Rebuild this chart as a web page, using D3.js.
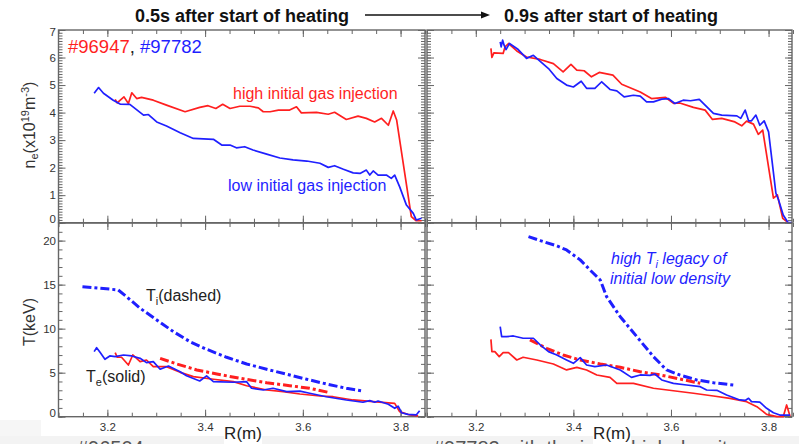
<!DOCTYPE html>
<meta charset="utf-8">
<style>
  body { margin: 0; background: #fff; }
  text { font-family: "Liberation Sans", Arial, sans-serif; }
</style>
<script src="https://d3js.org/d3.v7.min.js"></script>
<svg id="profiles" width="799" height="444"></svg>
<script>
  // ---- data: [R (m), value] ----
  // density, 0.5s
  var neEarlyRed = [[3.216,4.48],[3.220,4.35],[3.234,4.57],[3.243,4.33],[3.250,4.72],[3.260,4.51],[3.270,4.55],[3.294,4.45],[3.321,4.27],[3.359,4.03],[3.389,4.19],[3.406,4.25],[3.422,4.15],[3.436,4.30],[3.451,4.15],[3.471,4.23],[3.492,4.23],[3.509,4.17],[3.519,4.03],[3.533,4.03],[3.550,4.09],[3.573,4.09],[3.587,4.21],[3.597,3.99],[3.628,4.01],[3.652,3.94],[3.665,4.01],[3.689,3.75],[3.713,3.87],[3.730,3.79],[3.747,3.66],[3.761,3.79],[3.775,3.54],[3.785,4.06],[3.792,3.73],[3.822,0.22],[3.832,0.07],[3.843,0.07]];
  var neEarlyBlue = [[3.173,4.70],[3.182,4.91],[3.192,4.70],[3.212,4.45],[3.226,4.31],[3.246,4.30],[3.274,3.91],[3.284,3.93],[3.301,3.66],[3.321,3.51],[3.349,3.27],[3.376,3.06],[3.417,3.03],[3.434,2.82],[3.451,2.82],[3.464,2.72],[3.481,2.76],[3.498,2.64],[3.526,2.49],[3.553,2.35],[3.580,2.28],[3.608,2.24],[3.635,2.16],[3.652,2.01],[3.665,2.07],[3.683,1.94],[3.703,1.81],[3.717,1.79],[3.730,1.91],[3.737,1.73],[3.744,1.88],[3.754,1.73],[3.771,1.73],[3.781,1.61],[3.788,1.73],[3.798,1.31],[3.812,0.64],[3.826,0.34],[3.832,0.10],[3.843,0.16]];
  // density, 0.9s
  var neLateRed = [[3.231,6.33],[3.233,6.00],[3.237,6.17],[3.256,6.15],[3.260,6.39],[3.267,6.51],[3.284,6.24],[3.304,6.02],[3.332,5.93],[3.359,5.78],[3.379,5.48],[3.395,5.75],[3.407,5.54],[3.422,5.52],[3.437,5.30],[3.453,5.46],[3.481,5.36],[3.499,5.03],[3.537,4.75],[3.560,4.51],[3.589,4.55],[3.606,4.33],[3.618,4.35],[3.646,4.19],[3.670,4.09],[3.685,3.75],[3.704,3.79],[3.731,3.66],[3.745,3.52],[3.755,3.69],[3.769,3.58],[3.779,3.21],[3.788,3.36],[3.810,0.89],[3.818,1.01],[3.829,0.16],[3.840,0.00]];
  var neLateBlue = [[3.250,6.57],[3.252,6.39],[3.255,6.63],[3.258,6.45],[3.262,6.29],[3.269,6.51],[3.287,6.29],[3.304,5.97],[3.318,6.08],[3.349,5.60],[3.366,5.24],[3.386,5.00],[3.400,4.93],[3.416,5.14],[3.427,4.88],[3.444,4.88],[3.458,5.12],[3.475,4.84],[3.489,4.79],[3.504,4.57],[3.523,4.63],[3.537,4.60],[3.550,4.39],[3.564,4.39],[3.581,4.49],[3.595,4.51],[3.608,4.33],[3.625,4.45],[3.640,4.43],[3.658,4.48],[3.687,3.97],[3.704,3.91],[3.735,3.88],[3.743,3.79],[3.752,4.09],[3.759,3.70],[3.765,3.70],[3.774,3.91],[3.782,3.54],[3.791,3.70],[3.800,3.30],[3.815,1.07],[3.820,0.85],[3.830,0.28],[3.840,0.00],[3.847,0.00]];
  // temperatures, 0.5s
  var teEarlyRed = [[3.216,7.28],[3.220,6.75],[3.229,6.75],[3.243,5.87],[3.252,7.01],[3.267,6.25],[3.280,6.44],[3.294,5.68],[3.321,5.68],[3.349,5.04],[3.376,4.55],[3.417,4.25],[3.458,3.98],[3.485,3.52],[3.526,3.03],[3.560,2.84],[3.594,2.58],[3.635,2.35],[3.662,2.27],[3.703,1.90],[3.744,1.71],[3.788,1.52],[3.798,0.57],[3.819,0.19],[3.836,0.10]];
  var teEarlyBlue = [[3.173,7.39],[3.178,7.84],[3.185,7.31],[3.195,6.52],[3.205,6.90],[3.216,6.82],[3.233,7.01],[3.250,6.90],[3.267,6.63],[3.280,6.14],[3.294,6.25],[3.308,5.39],[3.325,5.76],[3.349,5.11],[3.362,4.66],[3.389,4.06],[3.403,4.63],[3.417,3.98],[3.458,3.91],[3.485,3.98],[3.495,3.23],[3.519,3.03],[3.539,3.23],[3.567,2.84],[3.594,2.90],[3.614,2.66],[3.648,2.27],[3.689,1.90],[3.723,1.64],[3.737,1.82],[3.747,1.64],[3.754,1.78],[3.775,1.41],[3.788,0.95],[3.795,1.20],[3.802,0.45],[3.815,0.27],[3.832,0.20],[3.839,0.68]];
  var tiEarlyRed = [[3.308,6.63],[3.342,5.99],[3.383,5.31],[3.424,4.85],[3.471,4.36],[3.526,3.86],[3.573,3.52],[3.614,3.23],[3.655,2.73]];
  var tiEarlyBlue = [[3.149,14.77],[3.185,14.59],[3.222,14.40],[3.239,13.64],[3.267,12.32],[3.301,10.99],[3.335,9.66],[3.369,8.52],[3.403,7.66],[3.444,6.75],[3.485,5.99],[3.526,5.39],[3.567,4.82],[3.608,4.25],[3.648,3.72],[3.689,3.23],[3.723,2.92]];
  // temperatures, 0.9s
  var teLateRed = [[3.231,8.79],[3.233,7.39],[3.239,7.39],[3.248,6.82],[3.256,7.28],[3.267,7.28],[3.284,6.44],[3.297,6.75],[3.325,6.44],[3.359,5.99],[3.386,5.31],[3.407,5.61],[3.427,5.31],[3.448,4.74],[3.475,4.47],[3.489,3.79],[3.523,3.79],[3.564,3.23],[3.605,2.95],[3.646,2.66],[3.687,2.35],[3.721,2.09],[3.755,1.71],[3.776,1.14],[3.796,0.27],[3.817,0.00],[3.830,0.00],[3.837,1.33],[3.844,0.06]];
  var teLateBlue = [[3.250,10.23],[3.253,9.09],[3.263,9.09],[3.277,9.17],[3.297,8.91],[3.318,8.91],[3.332,8.15],[3.349,7.39],[3.366,7.01],[3.386,6.44],[3.400,6.06],[3.414,6.71],[3.427,5.87],[3.444,5.68],[3.468,5.87],[3.496,5.31],[3.519,4.47],[3.537,4.74],[3.557,4.70],[3.567,4.85],[3.581,4.17],[3.605,3.79],[3.632,3.60],[3.660,3.41],[3.673,3.03],[3.694,3.00],[3.714,2.47],[3.741,1.90],[3.752,1.85],[3.759,2.09],[3.765,1.71],[3.782,1.66],[3.796,0.95],[3.810,0.45],[3.823,0.19],[3.844,0.19]];
  var tiLateRed = [[3.311,8.72],[3.345,7.77],[3.379,7.01],[3.414,6.44],[3.455,5.99],[3.496,5.61],[3.537,5.11],[3.578,4.74],[3.618,4.28],[3.660,3.79]];
  var tiLateBlue = [[3.308,20.45],[3.332,20.00],[3.366,19.40],[3.386,18.94],[3.414,17.81],[3.434,16.67],[3.455,15.53],[3.468,13.64],[3.496,11.36],[3.530,9.09],[3.564,6.82],[3.591,5.31],[3.618,4.74],[3.653,4.17],[3.687,3.86],[3.728,3.60]];

  var xTickLabels = [3.2, 3.4, 3.6, 3.8];
  var neTickLabels = [0, 1, 2, 3, 4, 5, 6, 7];
  var tTickLabels = [0, 5, 10, 15, 20];

  var red = "#ff1f1f", blue = "#1f1fff";

  var svg = d3.select("svg");

  // light slide background showing at the very bottom
  svg.append("rect").attr("x", 0).attr("y", 436).attr("width", 799).attr("height", 8).attr("fill", "#f3f3f3");
  svg.append("rect").attr("x", 0).attr("y", 420).attr("width", 41).attr("height", 16).attr("fill", "#f6f6f6");

  // captions of the slide, cut off by the bottom edge (drawn first, under R(m))
  svg.append("text").attr("x", 77).attr("y", 455).attr("font-size", 20).attr("fill", "#555").text("#96504");
  svg.append("text").attr("x", 433).attr("y", 455).attr("font-size", 20).attr("fill", "#555")
    .text("#97782 with the initial high density");

  // scales
  var xL = d3.scaleLinear().domain([3.1, 3.85]).range([58.5, 425]);
  var xR = d3.scaleLinear().domain([3.1, 3.848]).range([427, 792]);
  var yNe = d3.scaleLinear().domain([0, 7]).range([222.7, 30]);
  var yT = d3.scaleLinear().domain([0, 22]).range([416.7, 223]);

  var xMinor = d3.range(3.1, 3.851, 0.05).map(function(v) { return +v.toFixed(2); });
  var neMinor = d3.range(0, 7.001, 0.1).map(function(v) { return +v.toFixed(1); });
  var tMinor = d3.range(0, 22.001, 1);

  function ticks(g, axisFn, scale, values, size, labels) {
    var a = axisFn(scale).tickValues(values).tickSizeInner(-size).tickSizeOuter(0);
    a.tickFormat(labels ? d3.format("") : "");
    g.call(a);
    g.select(".domain").remove();
    g.selectAll("line").attr("stroke", "#666").attr("stroke-width", 1);
    g.selectAll("text").attr("font-size", 11.5).attr("fill", "#333");
    return g;
  }

  function panel(x, y, xMaj, yMaj, yMin, labelX, labelY) {
    var g = svg.append("g");
    var x0 = x.range()[0], x1 = x.range()[1], y0 = y.range()[0], y1 = y.range()[1];
    // x ticks
    ticks(g.append("g").attr("transform", "translate(0," + y0 + ")"), d3.axisBottom, x, xMinor, 4, false);
    var bx = ticks(g.append("g").attr("transform", "translate(0," + y0 + ")"), d3.axisBottom, x, xMaj, 7, labelX);
    bx.selectAll("text").attr("y", 6);
    ticks(g.append("g").attr("transform", "translate(0," + y1 + ")"), d3.axisTop, x, xMinor, 4, false);
    ticks(g.append("g").attr("transform", "translate(0," + y1 + ")"), d3.axisTop, x, xMaj, 7, false);
    // y ticks
    ticks(g.append("g").attr("transform", "translate(" + x0 + ",0)"), d3.axisLeft, y, yMin, 4, false);
    var ly = ticks(g.append("g").attr("transform", "translate(" + x0 + ",0)"), d3.axisLeft, y, yMaj, 7, labelY);
    ly.selectAll("text").attr("x", -2.5);
    ticks(g.append("g").attr("transform", "translate(" + x1 + ",0)"), d3.axisRight, y, yMin, 4, false);
    ticks(g.append("g").attr("transform", "translate(" + x1 + ",0)"), d3.axisRight, y, yMaj, 7, false);
    g.append("rect").attr("x", x0).attr("y", y1).attr("width", x1 - x0).attr("height", y0 - y1)
      .attr("fill", "none").attr("stroke", "#666").attr("stroke-width", 1.4);
    return { g: g, x: x, y: y, ly: ly };
  }

  var pTL = panel(xL, yNe, xTickLabels, neTickLabels, neMinor, false, true);
  var pTR = panel(xR, yNe, xTickLabels, neTickLabels, neMinor, false, false);
  var pBL = panel(xL, yT, xTickLabels, tTickLabels, tMinor, true, true);
  var pBR = panel(xR, yT, xTickLabels, tTickLabels, tMinor, true, false);

  // nudge end labels off the frame like the original
  pTL.ly.selectAll(".tick").filter(function(d) { return d === 0; }).select("text").attr("dy", "0.02em");
  pTL.ly.selectAll(".tick").filter(function(d) { return d === 7; }).select("text").attr("dy", "0.5em");
  pBL.ly.selectAll(".tick").filter(function(d) { return d === 0; }).select("text").attr("dy", "0em");

  function curve(p, data, color, dashed) {
    var line = d3.line().x(function(d) { return p.x(d[0]); }).y(function(d) { return p.y(d[1]); });
    p.g.append("path").datum(data).attr("d", line)
      .attr("fill", "none").attr("stroke", color)
      .attr("stroke-width", dashed ? 3 : 1.7)
      .attr("stroke-linejoin", "round")
      .attr("stroke-dasharray", dashed ? "9,3,3,3" : null);
  }

  curve(pTL, neEarlyRed, red);
  curve(pTL, neEarlyBlue, blue);
  curve(pTR, neLateRed, red);
  curve(pTR, neLateBlue, blue);
  curve(pBL, tiEarlyBlue, blue, true);
  curve(pBL, tiEarlyRed, red, true);
  curve(pBL, teEarlyRed, red);
  curve(pBL, teEarlyBlue, blue);
  curve(pBR, tiLateBlue, blue, true);
  curve(pBR, tiLateRed, red, true);
  curve(pBR, teLateRed, red);
  curve(pBR, teLateBlue, blue);

  // titles and arrow
  svg.append("text").attr("x", 242).attr("y", 22).attr("text-anchor", "middle")
    .attr("font-size", 18).attr("font-weight", "bold").attr("fill", "#111").text("0.5s after start of heating");
  svg.append("text").attr("x", 611).attr("y", 22).attr("text-anchor", "middle")
    .attr("font-size", 18).attr("font-weight", "bold").attr("fill", "#111").text("0.9s after start of heating");
  svg.append("line").attr("x1", 365).attr("x2", 483).attr("y1", 15).attr("y2", 15)
    .attr("stroke", "#111").attr("stroke-width", 1.6);
  svg.append("path").attr("d", "M481,11.5 L490,15 L481,18.5 Z").attr("fill", "#111");

  // legend of shots
  var leg = svg.append("text").attr("x", 68).attr("y", 53).attr("font-size", 18.5);
  leg.append("tspan").attr("fill", red).text("#96947");
  leg.append("tspan").attr("fill", "#222").text(", ");
  leg.append("tspan").attr("fill", blue).text("#97782");

  // annotations
  svg.append("text").attr("x", 233).attr("y", 99).attr("font-size", 16).attr("fill", red).text("high initial gas injection");
  svg.append("text").attr("x", 228).attr("y", 191).attr("font-size", 16).attr("fill", blue).text("low initial gas injection");

  var ti = svg.append("text").attr("x", 146).attr("y", 301).attr("font-size", 16).attr("fill", "#222");
  ti.append("tspan").text("T");
  ti.append("tspan").attr("font-size", 11).attr("dy", 4).text("i");
  ti.append("tspan").attr("dy", -4).text("(dashed)");
  var te = svg.append("text").attr("x", 86).attr("y", 382).attr("font-size", 16).attr("fill", "#222");
  te.append("tspan").text("T");
  te.append("tspan").attr("font-size", 11).attr("dy", 4).text("e");
  te.append("tspan").attr("dy", -4).text("(solid)");

  var leg1 = svg.append("text").attr("x", 611).attr("y", 264).attr("font-size", 16)
    .attr("font-style", "italic").attr("fill", blue);
  leg1.append("tspan").text("high T");
  leg1.append("tspan").attr("font-size", 11).attr("dy", 4).text("i");
  leg1.append("tspan").attr("dy", -4).text(" legacy of");
  svg.append("text").attr("x", 610).attr("y", 284).attr("font-size", 16)
    .attr("font-style", "italic").attr("fill", blue).text("initial low density");

  // axis titles
  var yl = svg.append("text").attr("transform", "translate(35,125) rotate(-90)")
    .attr("text-anchor", "middle").attr("font-size", 16).attr("fill", "#333");
  yl.append("tspan").text("n");
  yl.append("tspan").attr("font-size", 11).attr("dy", 3).text("e");
  yl.append("tspan").attr("dy", -3).text("(x10");
  yl.append("tspan").attr("font-size", 11).attr("dy", -6).text("19");
  yl.append("tspan").attr("dy", 6).text("m");
  yl.append("tspan").attr("font-size", 11).attr("dy", -6).text("-3");
  yl.append("tspan").attr("dy", 6).text(")");
  svg.append("text").attr("transform", "translate(35,322) rotate(-90)")
    .attr("text-anchor", "middle").attr("font-size", 16).attr("fill", "#333").text("T(keV)");

  // R(m) labels sit on top of the cut captions
  [243, 612].forEach(function(cx) {
    svg.append("rect").attr("x", cx - 19).attr("y", 426).attr("width", 38).attr("height", 18).attr("fill", "#fff");
    svg.append("text").attr("x", cx).attr("y", 439).attr("text-anchor", "middle")
      .attr("font-size", 17).attr("fill", "#222").text("R(m)");
  });
</script>
